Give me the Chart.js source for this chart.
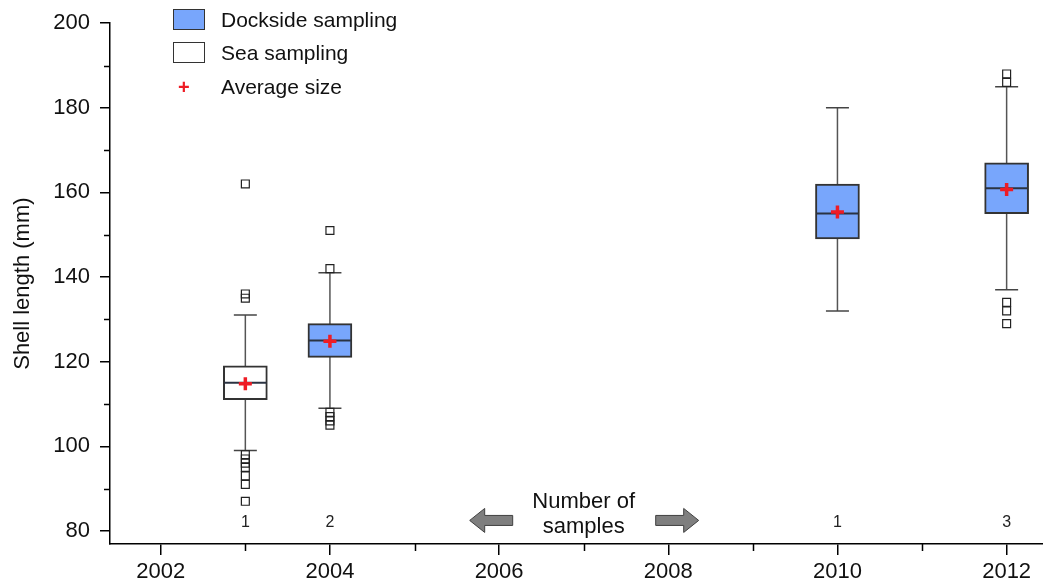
<!DOCTYPE html>
<html>
<head>
<meta charset="utf-8">
<script src="https://cdn.jsdelivr.net/npm/chart.js@4.4.1/dist/chart.umd.min.js"></script>
<style>
  body { margin: 0; background: #fff; font-family: "Liberation Sans", Arial, sans-serif; }
  #wrap { position: relative; width: 1043px; height: 584px; }
  .sw { position: absolute; left: 173px; width: 30px; height: 19px; border: 1px solid #333; }
  .lbl { position: absolute; left: 221px; font-size: 21px; line-height: 24px; color: #111; white-space: nowrap; }
  .plus { position: absolute; left: 178px; top: 76px; font-size: 20px; line-height: 22px; font-weight: bold; color: #ee1c25; }
</style>
</head>
<body>
<div id="wrap">
  <canvas id="chart" width="1043" height="584"></canvas>
  <div class="sw" style="top:9px;background:#78a6fc"></div>
  <div class="lbl" style="top:8px">Dockside sampling</div>
  <div class="sw" style="top:42px;background:#fff"></div>
  <div class="lbl" style="top:41px">Sea sampling</div>
  <div class="plus">+</div>
  <div class="lbl" style="top:75px">Average size</div>
</div>
<script>
// data
const years = [2003, 2004, 2010, 2012];
const method = ["Sea", "Dockside", "Dockside", "Dockside"];
const q1 = [111, 121, 149, 155];
const q3 = [119, 129, 162, 167];
const medians = [115, 125, 155, 161];
const means = [114.8, 124.8, 155.4, 160.7];
const whiskerLow = [99, 109, 132, 137];
const whiskerHigh = [131, 141, 180, 185];
const outliers = [
  [162, 136, 135, 98, 97, 96, 95, 93, 91, 87],
  [151, 142, 108, 107, 106, 105],
  [],
  [188, 186, 134, 132, 129]
];
const sampleCounts = [1, 2, 1, 3];

const FONT = "'Liberation Sans', Arial, sans-serif";

const boxes = m => years.map((x, i) => ({ x, y: [q1[i], q3[i]], m: method[i] })).filter(d => d.m === m);
const whiskers = [];
years.forEach((x, i) => whiskers.push({ x, y: whiskerLow[i] }, { x, y: whiskerHigh[i] }, { x, y: null }));
const caps = [];
years.forEach((x, i) => caps.push({ x, y: whiskerLow[i] }, { x, y: whiskerHigh[i] }));
const outPts = [];
outliers.forEach((list, i) => list.forEach(v => outPts.push({ x: years[i], y: v })));

// arrows, counts, minor ticks
const extras = {
  id: "extras",
  afterDatasetsDraw(chart) {
    const { ctx, scales: { x, y } } = chart;
    ctx.save();
    ctx.strokeStyle = "#000";
    ctx.lineWidth = 1.5;
    ctx.beginPath();
    x.ticks.forEach(t => {
      if (t.value % 2) {
        const px = Math.round(x.getPixelForValue(t.value)) + 0.5;
        ctx.moveTo(px, x.top); ctx.lineTo(px, x.top + 7);
      }
    });
    y.ticks.forEach(t => {
      if (t.value % 20) {
        const py = Math.round(y.getPixelForValue(t.value)) + 0.5;
        ctx.moveTo(y.right, py); ctx.lineTo(y.right - 6, py);
      }
    });
    ctx.stroke();

    // number of samples
    ctx.fillStyle = "#222";
    ctx.textAlign = "center";
    ctx.textBaseline = "middle";
    ctx.font = "16px " + FONT;
    const cy = y.getPixelForValue(82);
    years.forEach((yr, i) => ctx.fillText(String(sampleCounts[i]), x.getPixelForValue(yr), cy));

    ctx.font = "22px " + FONT;
    ctx.fillStyle = "#111";
    const cx = x.getPixelForValue(2007);
    ctx.fillText("Number of", cx, cy - 20);
    ctx.fillText("samples", cx, cy + 5);

    const arrow = (x0, dir) => {
      ctx.beginPath();
      ctx.moveTo(x0, cy - 2);
      ctx.lineTo(x0 + dir * 15, cy - 14);
      ctx.lineTo(x0 + dir * 15, cy - 7);
      ctx.lineTo(x0 + dir * 43, cy - 7);
      ctx.lineTo(x0 + dir * 43, cy + 3);
      ctx.lineTo(x0 + dir * 15, cy + 3);
      ctx.lineTo(x0 + dir * 15, cy + 10);
      ctx.closePath();
      ctx.fillStyle = "#7f7f7f";
      ctx.fill();
      ctx.strokeStyle = "#404040";
      ctx.lineWidth = 1;
      ctx.stroke();
    };
    arrow(cx - 114, 1);
    arrow(cx + 115, -1);
    ctx.restore();
  }
};

new Chart(document.getElementById("chart"), {
  type: "scatter",
  data: {
    datasets: [
      { type: "scatter", label: "Average size", data: years.map((x, i) => ({ x, y: means[i] })),
        pointStyle: "cross", pointRadius: 6.5, borderWidth: 3.5, borderColor: "#ee1c25", order: 0 },
      { type: "scatter", label: "outliers", data: outPts, pointStyle: "rect", pointRadius: 5.6,
        borderWidth: 1.2, borderColor: "#222", backgroundColor: "rgba(0,0,0,0)", order: 1 },
      { type: "scatter", label: "median", data: years.map((x, i) => ({ x, y: medians[i] })),
        pointStyle: "line", pointRadius: 21, borderWidth: 2, borderColor: "#2a3342", order: 2 },
      { type: "bar", label: "Dockside sampling", data: boxes("Dockside"), backgroundColor: "#78a6fc",
        borderColor: "#333", borderWidth: 2, borderSkipped: false, barThickness: 44, grouped: false, order: 3 },
      { type: "bar", label: "Sea sampling", data: boxes("Sea"), backgroundColor: "#fff",
        borderColor: "#333", borderWidth: 2, borderSkipped: false, barThickness: 44, grouped: false, order: 3 },
      { type: "scatter", label: "caps", data: caps, pointStyle: "line", pointRadius: 11.5,
        borderWidth: 1.5, borderColor: "#444", order: 4 },
      { type: "line", label: "whiskers", data: whiskers, pointRadius: 0, borderWidth: 1.5,
        borderColor: "#555", spanGaps: false, order: 5 }
    ]
  },
  options: {
    responsive: false,
    animation: false,
    events: [],
    layout: { autoPadding: false, padding: { top: 17, left: 0, right: 0, bottom: 0 } },
    plugins: { legend: { display: false }, tooltip: { enabled: false } },
    scales: {
      x: {
        type: "linear", min: 2001.4, max: 2012.43, offset: false,
        afterFit: s => { s.height = 40; s.paddingLeft = 0; s.paddingRight = 0; },
        border: { color: "#000", width: 1.5 },
        grid: { offset: false, drawOnChartArea: false, tickLength: 11, lineWidth: 1.5,
          tickColor: c => (c.tick && c.tick.value % 2 === 0) ? "#000" : "rgba(0,0,0,0)" },
        ticks: { stepSize: 1, includeBounds: false, padding: 4, color: "#111", font: { size: 22, family: FONT },
          callback: v => (v % 2 === 0 ? String(v) : "") }
      },
      y: {
        min: 76.9, max: 200,
        afterFit: s => { s.width = 110; },
        border: { color: "#000", width: 1.5 },
        title: { display: true, text: "Shell length (mm)", color: "#111", font: { size: 22, family: FONT }, padding: { top: 10 } },
        grid: { offset: false, drawOnChartArea: false, tickLength: 10, lineWidth: 1.5,
          tickColor: c => (c.tick && c.tick.value % 20 === 0) ? "#000" : "rgba(0,0,0,0)" },
        ticks: { stepSize: 10, includeBounds: false, padding: 10, color: "#111", font: { size: 22, family: FONT },
          callback: v => (v % 20 === 0 ? String(v) : "") }
      }
    }
  },
  plugins: [extras]
});
</script>
</body>
</html>
